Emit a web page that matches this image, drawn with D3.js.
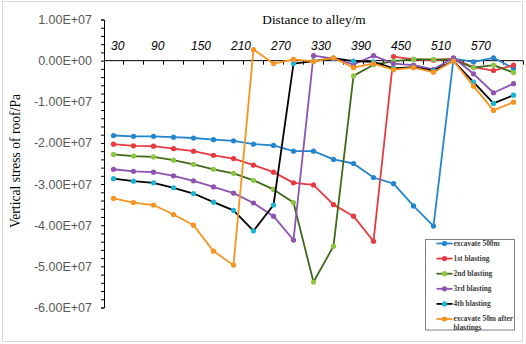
<!DOCTYPE html>
<html>
<head>
<meta charset="utf-8">
<script src="https://cdn.jsdelivr.net/npm/d3@7"></script>
<style>
	body { margin: 0; background: #fff; }
	svg { display: block; }
</style>
</head>
<body>
<svg id="chart" width="526" height="344"></svg>
<script>
// distance to alley (m), one point per category
const categories = [30, 60, 90, 120, 150, 180, 210, 240, 270, 300, 330, 360, 390, 420, 450, 480, 510, 540, 570, 600, 630];
const xTickLabels = ["30", "90", "150", "210", "270", "330", "390", "450", "510", "570"];
const yTickValues = [1e7, 0, -1e7, -2e7, -3e7, -4e7, -5e7, -6e7];

// vertical stress of roof (Pa)
const excavate500 = [-1.82e7, -1.84e7, -1.84e7, -1.86e7, -1.88e7, -1.92e7, -1.95e7, -2.03e7, -2.06e7, -2.20e7, -2.20e7, -2.40e7, -2.50e7, -2.84e7, -2.99e7, -3.53e7, -4.02e7, 0.05e7, -0.03e7, 0.07e7, -0.19e7];
const blasting1 = [-2.03e7, -2.07e7, -2.08e7, -2.14e7, -2.20e7, -2.30e7, -2.38e7, -2.54e7, -2.71e7, -2.97e7, -3.02e7, -3.50e7, -3.78e7, -4.39e7, 0.10e7, 0.03e7, 0.01e7, 0.05e7, -0.16e7, -0.24e7, -0.11e7];
const blasting2 = [-2.28e7, -2.32e7, -2.34e7, -2.42e7, -2.52e7, -2.64e7, -2.74e7, -2.91e7, -3.13e7, -3.45e7, -5.38e7, -4.51e7, -0.37e7, -0.10e7, -0.01e7, 0.03e7, 0.03e7, 0.02e7, -0.17e7, -0.11e7, -0.29e7];
const blasting3 = [-2.64e7, -2.69e7, -2.71e7, -2.80e7, -2.92e7, -3.07e7, -3.22e7, -3.46e7, -3.78e7, -4.36e7, 0.12e7, 0.05e7, -0.09e7, 0.12e7, -0.07e7, -0.11e7, -0.21e7, 0.07e7, -0.32e7, -0.78e7, -0.56e7];
const blasting4 = [-2.87e7, -2.93e7, -2.97e7, -3.09e7, -3.23e7, -3.44e7, -3.64e7, -4.14e7, -3.51e7, -0.07e7, -0.01e7, 0.06e7, -0.01e7, -0.03e7, -0.19e7, -0.16e7, -0.24e7, -0.01e7, -0.52e7, -1.04e7, -0.84e7];
const excavate50After = [-3.35e7, -3.45e7, -3.51e7, -3.74e7, -4.00e7, -4.63e7, -4.97e7, 0.27e7, -0.07e7, 0.03e7, -0.02e7, 0.07e7, -0.17e7, -0.07e7, -0.22e7, -0.17e7, -0.28e7, -0.01e7, -0.62e7, -1.21e7, -1.01e7];

const seriesNames = ["excavate 500m", "1st blasting", "2nd blasting", "3rd blasting", "4th blasting", "excavate 50m after blastings"];

const series = [
	{ name: seriesNames[0], values: excavate500, line: "#2385cf", marker: "#2385cf" },
	{ name: seriesNames[1], values: blasting1, line: "#e8393f", marker: "#e8393f" },
	{ name: seriesNames[2], values: blasting2, line: "#3f6a1c", marker: "#8cc63f" },
	{ name: seriesNames[3], values: blasting3, line: "#8e52b0", marker: "#8e52b0" },
	{ name: seriesNames[4], values: blasting4, line: "#000000", marker: "#19b5d6" },
	{ name: seriesNames[5], values: excavate50After, line: "#f7931e", marker: "#f7931e" }
];

const sciFormat = v => {
	if (v === 0) return "0.00E+00";
	const e = Math.floor(Math.log10(Math.abs(v)) + 1e-9);
	const m = v / Math.pow(10, e);
	return m.toFixed(2) + "E" + (e < 0 ? "-" : "+") + String(Math.abs(e)).padStart(2, "0");
};

const svg = d3.select("#chart");

// outer chart frame
svg.append("rect")
	.attr("x", 2.5)
	.attr("y", 1.5)
	.attr("width", 520)
	.attr("height", 340)
	.attr("fill", "#fff")
	.attr("stroke", "#d9d9d9");

// scales
const x = d3.scaleBand()
	.domain(categories)
	.range([103.5, 523.5])
	.paddingInner(0)
	.paddingOuter(0);

const xc = d => x(d) + x.bandwidth() / 2;

const y = d3.scaleLinear()
	.domain([-6e7, 1e7])
	.range([307.5, 19.5]);

// y axis (ticks every 2E6, labels every 1E7)
const yAxis = svg.append("g")
	.attr("transform", "translate(104,0)")
	.call(d3.axisLeft(y)
		.tickValues(d3.range(-6e7, 1e7 + 1, 2e6))
		.tickSize(3)
		.tickFormat(""));
yAxis.select(".domain").attr("stroke", "#000");
yAxis.selectAll(".tick line").attr("stroke", "#000");

svg.append("g")
	.selectAll("text")
	.data(yTickValues)
	.join("text")
	.attr("x", 92)
	.attr("y", d => y(d))
	.attr("dy", "0.36em")
	.attr("text-anchor", "end")
	.attr("font-family", "Liberation Sans, Arial, sans-serif")
	.attr("font-size", 12.5)
	.attr("fill", "#595959")
	.text(sciFormat);

// x axis along the zero line, ticks between categories
const boundaries = categories.map(d => x(d)).concat([x(categories[categories.length - 1]) + x.bandwidth()]);
const xAxis = svg.append("g").attr("class", "x axis");
xAxis.append("line")
	.attr("x1", 104)
	.attr("x2", 523)
	.attr("y1", y(0))
	.attr("y2", y(0))
	.attr("stroke", "#000");
xAxis.selectAll(".xtick")
	.data(boundaries.slice(1))
	.join("line")
	.attr("class", "xtick")
	.attr("x1", d => d)
	.attr("x2", d => d)
	.attr("y1", y(0))
	.attr("y2", y(0) + 4)
	.attr("stroke", "#000");

xAxis.selectAll(".xlabel")
	.data(xTickLabels)
	.join("text")
	.attr("class", "xlabel")
	.attr("x", d => xc(+d) - 2.5)
	.attr("y", 50)
	.attr("font-family", "Liberation Sans, Arial, sans-serif")
	.attr("font-style", "italic")
	.attr("font-size", 12)
	.attr("fill", "#000")
	.text(d => d);

// axis titles
svg.append("text")
	.attr("x", 314)
	.attr("y", 24)
	.attr("text-anchor", "middle")
	.attr("font-family", "Liberation Serif, Times New Roman, serif")
	.attr("font-size", 13.3)
	.attr("fill", "#000")
	.text("Distance to alley/m");

svg.append("text")
	.attr("transform", "translate(20,161) rotate(-90)")
	.attr("text-anchor", "middle")
	.attr("font-family", "Liberation Serif, Times New Roman, serif")
	.attr("font-size", 13.6)
	.attr("fill", "#000")
	.text("Vertical stress of roof/Pa");

// series lines and markers
const line = d3.line()
	.x((d, i) => xc(categories[i]))
	.y(d => y(d));

const seriesGroup = svg.append("g")
	.selectAll("g")
	.data(series)
	.join("g")
	.attr("class", "series");

seriesGroup.append("path")
	.attr("d", d => line(d.values))
	.attr("fill", "none")
	.attr("stroke", d => d.line)
	.attr("stroke-width", 1.8)
	.attr("stroke-linejoin", "round");

seriesGroup.selectAll("circle")
	.data(d => d.values.map((v, i) => ({ v, i, c: d.marker })))
	.join("circle")
	.attr("cx", d => xc(categories[d.i]))
	.attr("cy", d => y(d.v))
	.attr("r", 2.6)
	.attr("fill", d => d.c);

// legend
const legend = svg.append("g").attr("class", "legend");
legend.append("rect")
	.attr("x", 425.5)
	.attr("y", 239.5)
	.attr("width", 89)
	.attr("height", 90.5)
	.attr("fill", "#fff")
	.attr("stroke", "#7f7f7f");

const legendItem = legend.selectAll(".legend-item")
	.data(series)
	.join("g")
	.attr("class", "legend-item")
	.attr("transform", (d, i) => "translate(0," + (243.5 + i * 15.1) + ")");

legendItem.append("line")
	.attr("x1", 436.5)
	.attr("x2", 452.5)
	.attr("stroke", d => d.line)
	.attr("stroke-width", 1.8);

legendItem.append("circle")
	.attr("cx", 444.5)
	.attr("r", 2.6)
	.attr("fill", d => d.marker);

legendItem.append("text")
	.attr("x", 453.5)
	.attr("dy", "0.32em")
	.attr("font-family", "Liberation Serif, Times New Roman, serif")
	.attr("font-weight", "bold")
	.attr("font-size", 7.4)
	.attr("fill", "#404040")
	.each(function (d) {
		const words = d.name.split(" ");
		const t = d3.select(this);
		if (words.length > 3) {
			t.append("tspan").attr("x", 453.5).text(words.slice(0, 3).join(" "));
			t.append("tspan").attr("x", 453.5).attr("dy", 8.5).text(words.slice(3).join(" "));
		} else {
			t.text(d.name);
		}
	});
</script>
</body>
</html>
